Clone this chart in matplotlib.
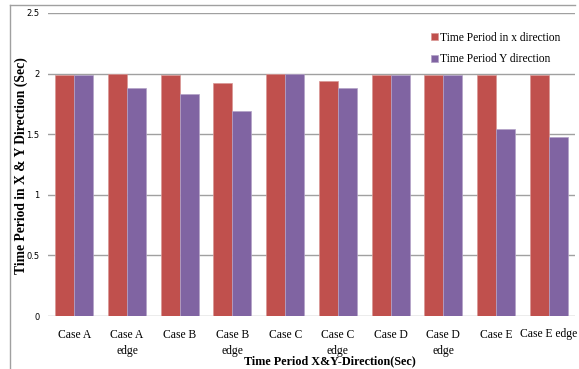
import matplotlib
matplotlib.use("Agg")
import matplotlib.pyplot as plt
import numpy as np
from matplotlib.lines import Line2D

categories = ["Case A", "Case A\nedge", "Case B", "Case B\nedge", "Case C",
              "Case C\nedge", "Case D", "Case D\nedge", "Case E", "Case E edge"]
x_dir = [1.99, 2.00, 1.99, 1.92, 2.00, 1.94, 1.99, 1.99, 1.99, 1.99]
y_dir = [1.99, 1.88, 1.83, 1.69, 2.00, 1.88, 1.99, 1.99, 1.54, 1.48]
yticks = [0, 0.5, 1, 1.5, 2, 2.5]
ytick_labels = ["0", "0.5", "1", "1.5", "2", "2.5"]

serif = ["Liberation Serif", "DejaVu Serif"]

fig = plt.figure(figsize=(5.79, 3.69), dpi=100)
ax = fig.add_axes([48/579, 1-316/369, (575-48)/579, (316-13)/369])

pos = np.arange(len(categories))
w = 0.36
ax.bar(pos - w/2, x_dir, w, color="#C0504D", edgecolor="#D99694", linewidth=0.5,
       label="Time Period in x direction", zorder=3)
ax.bar(pos + w/2, y_dir, w, color="#8064A2", edgecolor="#B3A2C7", linewidth=0.5,
       label="Time Period Y direction", zorder=3)

ax.set_xlim(-0.5, len(categories) - 0.5)
ax.set_ylim(0, 2.5)
ax.set_yticks(yticks)
ax.set_yticklabels(ytick_labels, fontsize=6, family="DejaVu Sans")
ax.set_xticks(pos)
ax.set_xticklabels(categories, fontsize=8.4, family=serif, linespacing=1.45)
ax.tick_params(axis="y", length=0, pad=6)
ax.tick_params(axis="x", length=0, pad=9)
ax.grid(axis="y", color="#A0A0A0", linewidth=1, zorder=0)
for s in ax.spines.values():
    s.set_visible(False)

leg = fig.legend(loc="upper left", bbox_to_anchor=(426/579, 1-27/369), frameon=False,
                 prop={"family": serif, "size": 8.3}, handlelength=0.6, handleheight=0.6,
                 handletextpad=0.2, labelspacing=0.85, borderaxespad=0)

fig.text(21/579, 1-166/369, "Time Period in X & Y Direction (Sec)", rotation=90,
         ha="center", va="center", fontsize=9.8, fontweight="bold", family=serif)
fig.text(330/579, 1-361/369, "Time Period X&Y-Direction(Sec)", ha="center", va="center",
         fontsize=8.7, fontweight="bold", family=serif)

# outer frame lines
fig.add_artist(Line2D([10/579, 10/579], [0, 1-5/369], color="#A0A0A0", linewidth=1,
                      transform=fig.transFigure))
fig.add_artist(Line2D([10/579, 575/579], [1-5/369, 1-5/369], color="#A0A0A0", linewidth=1,
                      transform=fig.transFigure))

fig.savefig("out.png", dpi=100)
